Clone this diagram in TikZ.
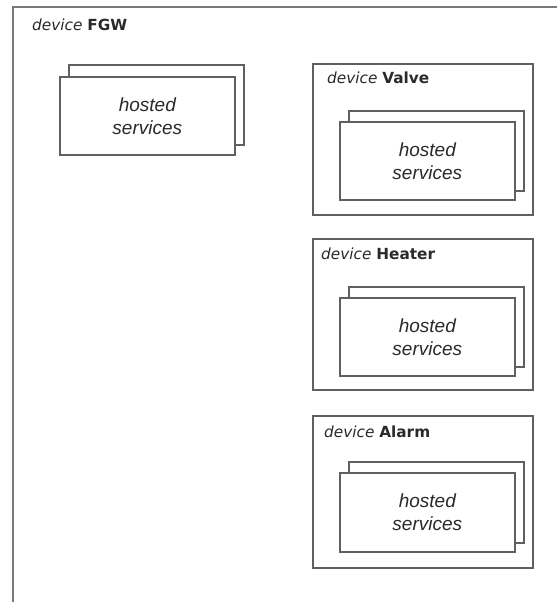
\documentclass[tikz,border=0pt]{standalone}
\usepackage{fontspec}
\setmainfont{Liberation Sans}
\newfontfamily\labfont{DejaVu Sans}
\definecolor{linecol}{HTML}{606060}
\definecolor{textcol}{HTML}{2A2A2A}
\tikzset{
  box/.style={draw=linecol, line width=1.6pt, fill=white, rectangle, inner sep=0pt, anchor=north west},
  devbox/.style={box, minimum width=220pt, minimum height=151pt},
  backbox/.style={box, minimum width=175pt, minimum height=80pt},
  frontbox/.style={box, minimum width=175pt, minimum height=78pt, align=center,
    font=\fontsize{19}{23}\selectfont\itshape, text=textcol},
  devlabel/.style={anchor=base west, inner sep=0pt, font=\labfont\fontsize{15.3}{18}\selectfont, text=textcol},
  outerframe/.style={draw=linecol!85, line width=2pt}
}
\begin{document}
\begin{tikzpicture}[x=1pt,y=-1pt]
\useasboundingbox (0,0) rectangle (557,602);
\fill[white] (0,0) rectangle (557,602);
% outer device FGW
\coordinate (fgwbl) at (13,602);
\coordinate (fgwtl) at (13,7);
\coordinate (fgwtr) at (557,7);
\draw[outerframe] (fgwbl) -- (fgwtl) -- (fgwtr);
\node[devlabel] (fgwlab) at (32,31) {{\itshape device} {\bfseries FGW}};
\node[backbox] (fgwback) at (68,64) {};
\node[frontbox] (fgwfront) at (59,76) {hosted\\services};
% Valve
\node[devbox] (valve) at (312,63) {};
\node[devlabel] (valvelab) at (327,84) {{\itshape device} {\bfseries Valve}};
\node[backbox] (valveback) at (348,110) {};
\node[frontbox] (valvefront) at (339,121) {hosted\\services};
% Heater
\node[devbox] (heater) at (312,238) {};
\node[devlabel] (heaterlab) at (321,259) {{\itshape device} {\bfseries Heater}};
\node[backbox] (heaterback) at (348,286) {};
\node[frontbox] (heaterfront) at (339,297) {hosted\\services};
% Alarm
\node[devbox, minimum height=152pt] (alarm) at (312,415) {};
\node[devlabel] (alarmlab) at (324,437) {{\itshape device} {\bfseries Alarm}};
\node[backbox, minimum height=81pt] (alarmback) at (348,461) {};
\node[frontbox, minimum height=79pt] (alarmfront) at (339,472) {hosted\\services};
\end{tikzpicture}
\end{document}
